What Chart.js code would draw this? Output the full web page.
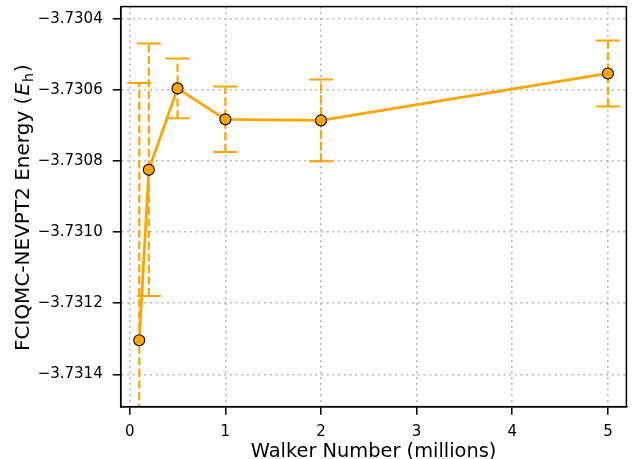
<!DOCTYPE html>
<html><head><meta charset="utf-8">
<script src="https://cdn.jsdelivr.net/npm/chart.js@4/dist/chart.umd.min.js"></script>
<style>html,body{margin:0;padding:0;background:#fff}#wrap{width:633px;height:459px}</style>
</head><body><div id="wrap"><canvas id="c" width="633" height="459"></canvas></div>
<script>
const walkers = [0.1, 0.2, 0.5, 1, 2, 5];
const energies = [-3.731304, -3.730825, -3.730596, -3.730683, -3.730686, -3.730554];
const errors = [0.000723, 0.000355, 0.000084, 0.000092, 0.000115, 0.000093];
const xTicks = [0, 1, 2, 3, 4, 5];
const yTicks = [-3.7314, -3.7312, -3.7310, -3.7308, -3.7306, -3.7304];
const xTitle = 'Walker Number (millions)';
const yTitleMain = 'FCIQMC-NEVPT2 Energy (';
const yTitleSym = 'E';
const yTitleSub = 'h';
const yTitleEnd = ')';

const ORANGE = '#FFA500';
const FONT = "'DejaVu Sans', sans-serif";
const TITLE_SIZE = 19.4;
const YTITLE_SIZE = 20;
const TICK_SIZE = 15;

const errorBars = {
  id: 'errorBars',
  beforeDatasetsDraw(chart) {
    const {ctx, chartArea: a, scales: {x, y}} = chart;
    ctx.save();
    ctx.beginPath(); ctx.rect(a.left, a.top, a.right - a.left, a.bottom - a.top); ctx.clip();
    ctx.strokeStyle = ORANGE;
    walkers.forEach((w, i) => {
      const px = x.getPixelForValue(w);
      const top = y.getPixelForValue(energies[i] + errors[i]);
      const bot = y.getPixelForValue(energies[i] - errors[i]);
      ctx.lineWidth = 2.2;
      ctx.setLineDash([8.1, 3.5]);
      ctx.beginPath(); ctx.moveTo(px, bot); ctx.lineTo(px, top); ctx.stroke();
      ctx.setLineDash([]);
      ctx.lineWidth = 2;
      ctx.beginPath();
      ctx.moveTo(px - 12, top); ctx.lineTo(px + 12, top);
      ctx.moveTo(px - 12, bot); ctx.lineTo(px + 12, bot);
      ctx.stroke();
    });
    ctx.restore();
  }
};

const frameAndTitles = {
  id: 'frameAndTitles',
  afterDraw(chart) {
    const {ctx, chartArea: a} = chart;
    ctx.save();
    ctx.strokeStyle = '#000'; ctx.lineWidth = 1.5;
    ctx.strokeRect(a.left, a.top, a.right - a.left, a.bottom - a.top);
    ctx.fillStyle = '#000';
    // x-axis title
    ctx.font = TITLE_SIZE + 'px ' + FONT; ctx.textAlign = 'center'; ctx.textBaseline = 'alphabetic';
    ctx.fillText(xTitle, (a.left + a.right) / 2, 456.5);
    // y-axis title with italic symbol and subscript
    const fN = YTITLE_SIZE + 'px ' + FONT;
    const fI = 'italic ' + YTITLE_SIZE + 'px ' + FONT;
    const fS = (YTITLE_SIZE * 0.7) + 'px ' + FONT;
    ctx.font = fN; const w1 = ctx.measureText(yTitleMain).width;
    ctx.font = fI; const w2 = ctx.measureText(yTitleSym).width;
    ctx.font = fS; const w3 = ctx.measureText(yTitleSub).width;
    ctx.font = fN; const w4 = ctx.measureText(yTitleEnd).width;
    const total = w1 + w2 + w3 + w4 + 3;
    ctx.translate(28.5, (a.top + a.bottom) / 2 + 1);
    ctx.rotate(-Math.PI / 2);
    ctx.textAlign = 'left';
    let xp = -total / 2;
    ctx.font = fN; ctx.fillText(yTitleMain, xp, 0); xp += w1 + 1;
    ctx.font = fI; ctx.fillText(yTitleSym, xp, 0); xp += w2 + 1;
    ctx.font = fS; ctx.fillText(yTitleSub, xp, YTITLE_SIZE * 0.2); xp += w3 + 1;
    ctx.font = fN; ctx.fillText(yTitleEnd, xp, 0);
    ctx.restore();
  }
};

const minus = v => String(v).replace('-', '\u2212');
const gridOpts = {color: '#b8b8b8', lineWidth: 1.6, borderDash: [2, 3.7], tickColor: '#000', tickWidth: 1.5, tickLength: 8, tickBorderDash: []};
const borderOpts = {display: true, color: '#000', width: 1.5, dash: [2, 3.7]};

new Chart(document.getElementById('c'), {
  type: 'line',
  data: {
    datasets: [{
      data: walkers.map((w, i) => ({x: w, y: energies[i]})),
      borderColor: ORANGE,
      borderWidth: 2.8,
      backgroundColor: ORANGE,
      pointBackgroundColor: ORANGE,
      pointBorderColor: '#000',
      pointBorderWidth: 1.1,
      pointRadius: 5.5,
      tension: 0,
      fill: false
    }]
  },
  options: {
    responsive: false,
    devicePixelRatio: 1,
    animation: false,
    events: [],
    layout: {padding: {top: 4.7, right: 6.3, left: 0, bottom: 0}},
    plugins: {legend: {display: false}, tooltip: {enabled: false}},
    scales: {
      x: {
        type: 'linear',
        min: -0.094, max: 5.193,
        afterBuildTicks: s => { s.ticks = xTicks.map(v => ({value: v})); },
        afterFit: s => { s.height = 52.3; s.paddingLeft = 0; s.paddingRight = 0; },
        ticks: {
          color: '#000', font: {family: FONT, size: TICK_SIZE}, padding: 8.5,
          callback: v => minus(v), maxRotation: 0, autoSkip: false
        },
        grid: gridOpts,
        border: borderOpts
      },
      y: {
        type: 'linear',
        min: -3.731491, max: -3.730366,
        afterBuildTicks: s => { s.ticks = yTicks.map(v => ({value: v})); },
        afterFit: s => { s.width = 120.7; s.paddingTop = 0; s.paddingBottom = 0; },
        ticks: {
          color: '#000', font: {family: FONT, size: TICK_SIZE}, padding: 10,
          callback: v => minus(v.toFixed(4)), autoSkip: false
        },
        grid: gridOpts,
        border: borderOpts
      }
    }
  },
  plugins: [errorBars, frameAndTitles]
});
</script></body></html>
